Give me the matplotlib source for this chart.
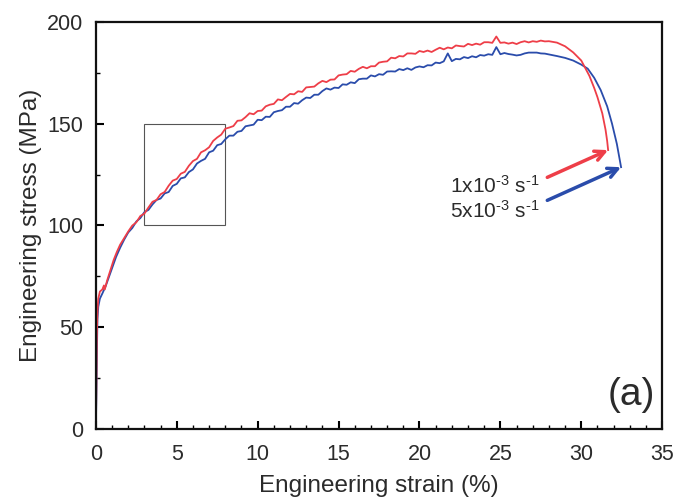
import numpy as np
import matplotlib
matplotlib.use('Agg')
import matplotlib.pyplot as plt
from matplotlib.patches import Rectangle
from matplotlib.ticker import MultipleLocator

plt.rcParams['font.family'] = ['Liberation Sans', 'DejaVu Sans']
plt.rcParams['mathtext.fontset'] = 'custom'
plt.rcParams['mathtext.rm'] = 'Liberation Sans'
plt.rcParams['mathtext.it'] = 'Liberation Sans:italic'

RED = '#ee3e48'
BLUE = '#2a4cab'
TXT = '#2b2b2b'

# strain grid for the serrated middle part (%)
grid = np.arange(2.0, 28.01, 0.25)

# 1x10^-3 s^-1  (red)
red_head_x = [0, 0.03, 0.06, 0.1, 0.15, 0.25, 0.4, 0.5, 0.55, 0.7, 0.9, 1.1, 1.3, 1.5, 1.75]
red_head_y = [0, 20, 45, 58, 64, 67.5, 68.5, 70.5, 68.5, 73, 78, 83, 87, 90.5, 93.8]
red_mid_y = [97.0, 99.9, 101.5, 104.6, 105.8, 108.8, 111.6, 112.5, 115.3, 116.4,
             119.5, 122.0, 122.8, 125.4, 126.3, 129.3, 131.6, 132.7, 135.9, 136.9,
             138.4, 141.5, 143.2, 144.6, 147.5, 148.1, 148.8, 151.4, 151.6, 153.2,
             155.1, 154.6, 156.2, 156.4, 158.5, 159.3, 159.7, 161.9, 161.5, 163.1,
             164.6, 164.4, 165.9, 165.6, 167.8, 168.0, 168.2, 169.8, 171.0, 170.4,
             171.6, 171.7, 173.7, 174.1, 174.3, 175.9, 175.5, 176.9, 177.9, 177.2,
             178.2, 178.2, 180.0, 180.4, 180.6, 182.4, 182.1, 183.2, 183.0, 184.5,
             184.5, 184.3, 185.7, 185.2, 185.9, 185.2, 186.3, 187.3, 186.5, 187.4,
             187.0, 188.4, 188.1, 187.9, 189.2, 188.6, 189.3, 188.8, 190.0, 190.0,
             189.7, 192.8, 189.7, 189.9, 189.3, 189.8, 189.1, 190.0, 190.5, 189.9,
             190.5, 190.2, 190.8, 190.4, 190.5]
red_tail_x = [28.5, 29.0, 29.5, 30.0, 30.5, 30.8, 31.0, 31.3, 31.5, 31.6, 31.66]
red_tail_y = [189.8, 188.0, 185.0, 181.0, 173.5, 167.5, 163.0, 155.0, 147.0, 141.5, 137.0]

# 5x10^-3 s^-1  (blue)
blue_head_x = [0, 0.03, 0.07, 0.1, 0.15, 0.25, 0.4, 0.6, 0.8, 1.0, 1.25, 1.5, 1.75]
blue_head_y = [0, 15, 40, 54, 60, 64, 66.5, 70, 74.5, 79, 84.5, 89, 93]
blue_mid_y = [96.5, 98.7, 101.9, 103.6, 106.5, 107.6, 110.3, 112.5, 113.2, 115.7,
              116.4, 119.4, 120.4, 123.1, 123.6, 126.2, 127.5, 130.4, 131.7, 132.7,
              135.9, 136.7, 139.4, 140.0, 142.3, 144.1, 144.1, 146.0, 146.4, 148.7,
              149.1, 149.5, 151.9, 151.7, 153.4, 153.3, 155.6, 156.2, 156.6, 158.3,
              158.3, 160.1, 159.8, 161.5, 162.8, 162.6, 164.2, 164.2, 166.0, 167.3,
              166.7, 167.7, 167.5, 169.3, 169.1, 170.3, 169.9, 171.8, 172.1, 172.1,
              173.7, 173.2, 174.3, 174.0, 175.6, 175.7, 175.6, 176.8, 176.3, 177.2,
              176.4, 177.6, 178.1, 177.7, 178.7, 178.6, 180.0, 179.7, 180.6, 184.5,
              180.7, 181.8, 181.6, 182.7, 182.2, 183.1, 182.6, 183.7, 183.4, 184.1,
              183.8, 187.6, 184.1, 184.7, 184.2, 183.9, 183.5, 183.8, 184.5, 184.9,
              184.9, 184.9, 184.5, 184.4, 184.0]
blue_tail_x = [28.5, 29.0, 29.5, 30.0, 30.4, 30.8, 31.2, 31.6, 31.9, 32.2, 32.46]
blue_tail_y = [183.2, 182.3, 181.0, 179.0, 177.0, 172.5, 166.5, 158.5, 150.0, 140.0, 128.6]

red_x = np.concatenate([red_head_x, grid, red_tail_x])
red_y = np.concatenate([red_head_y, red_mid_y, red_tail_y])
blue_x = np.concatenate([blue_head_x, grid, blue_tail_x])
blue_y = np.concatenate([blue_head_y, blue_mid_y, blue_tail_y])

fig = plt.figure(figsize=(6.75, 4.97), dpi=100)
ax = fig.add_axes([0.142, 0.137, 0.839, 0.819])

ax.plot(blue_x, blue_y, color=BLUE, lw=1.3)
ax.plot(red_x, red_y, color=RED, lw=1.3)

# zoom box
ax.add_patch(Rectangle((3, 100), 5, 50, fill=False, edgecolor='#555555', lw=0.8))

# arrows + labels
arrow = '->,head_length=0.7,head_width=0.35'
ax.annotate('', xy=(31.66, 137), xytext=(27.9, 123.6),
            arrowprops=dict(arrowstyle=arrow, color=RED, lw=2.5, shrinkA=0, shrinkB=0))
ax.annotate('', xy=(32.46, 128.6), xytext=(27.9, 112.3),
            arrowprops=dict(arrowstyle=arrow, color=BLUE, lw=2.5, shrinkA=0, shrinkB=0))
ax.text(27.4, 119.5, r'1x10$^{\text{-3}}$ s$^{\text{-1}}$', ha='right', va='center',
        fontsize=15, color=TXT)
ax.text(27.4, 107.2, r'5x10$^{\text{-3}}$ s$^{\text{-1}}$', ha='right', va='center',
        fontsize=15, color=TXT)

ax.text(0.988, 0.04, '(a)', transform=ax.transAxes, ha='right', va='bottom',
        fontsize=28, color=TXT)

ax.set_xlim(0, 35)
ax.set_ylim(0, 200)
ax.xaxis.set_major_locator(MultipleLocator(5))
ax.xaxis.set_minor_locator(MultipleLocator(1))
ax.yaxis.set_major_locator(MultipleLocator(50))
ax.yaxis.set_minor_locator(MultipleLocator(25))
ax.tick_params(which='both', direction='in', top=False, right=False,
               labelsize=15.5, labelcolor=TXT)
ax.tick_params(axis='x', which='both', pad=11)
ax.tick_params(axis='y', which='both', pad=9)
ax.tick_params(which='major', length=6, width=1.5)
ax.tick_params(which='minor', length=3, width=1.0)
for s in ax.spines.values():
    s.set_linewidth(1.6)
    s.set_color('#111111')

ax.set_xlabel('Engineering strain (%)', fontsize=17.5, color=TXT, labelpad=7)
ax.set_ylabel('Engineering stress (MPa)', fontsize=17.5, color=TXT, labelpad=4)

fig.savefig('out.png', dpi=100)
